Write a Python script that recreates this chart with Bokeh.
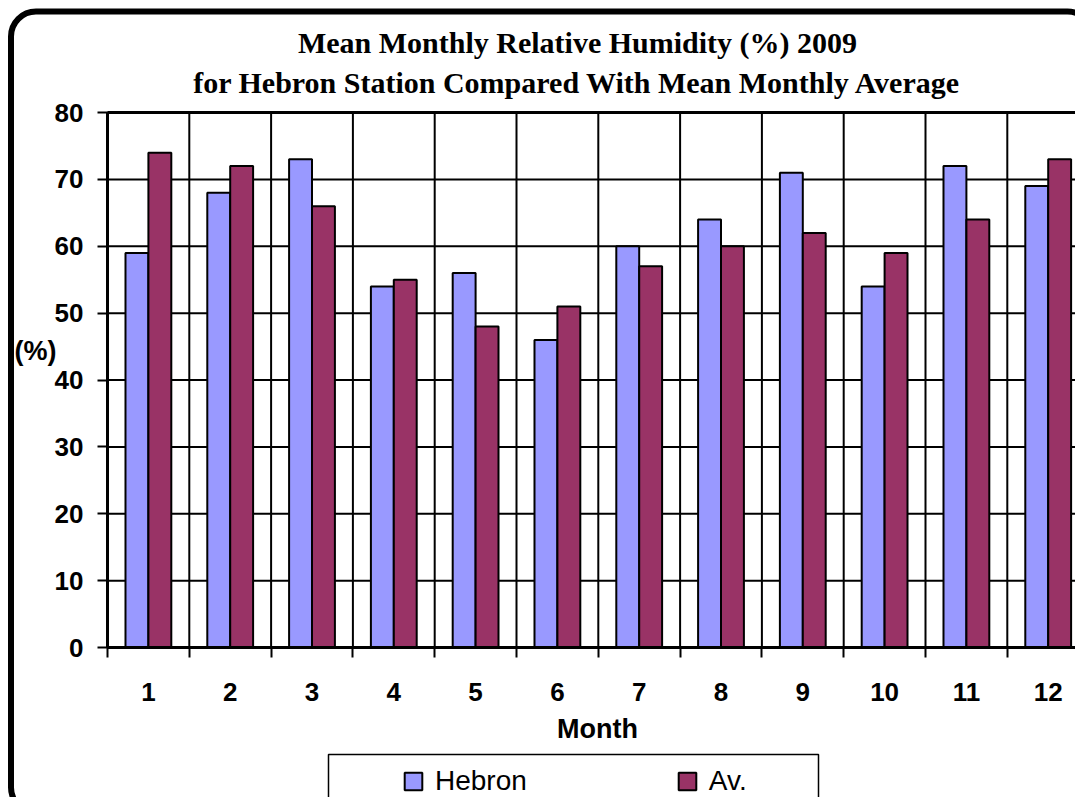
from bokeh.plotting import figure
from bokeh.models import (Range1d, FixedTicker, Legend, LegendItem, Label,
                          BoxAnnotation, ColumnDataSource)
from bokeh.embed import file_html
from bokeh.resources import INLINE

# ---- data ----
months = ["1", "2", "3", "4", "5", "6", "7", "8", "9", "10", "11", "12"]
hebron = [59, 68, 73, 54, 56, 46, 60, 64, 71, 54, 72, 69]
average = [74, 72, 66, 55, 48, 51, 57, 60, 62, 59, 64, 73]
y_ticks = [0, 10, 20, 30, 40, 50, 60, 70, 80]
title_lines = ["Mean Monthly Relative Humidity (%) 2009",
               "for Hebron Station Compared With Mean Monthly Average"]

# ---- layout geometry (pixels) ----
W, H = 1075, 797
X0, Y0, Y80 = 107, 647, 112          # plot area left, y=0 and y=80 pixel rows
cat_px = 81.8
y_px = (Y0 - Y80) / 80.0

def dx(px):
    return (px - X0) / cat_px

def dy(py):
    return (Y0 - py) / y_px

n = len(months)
centers = [i + 0.5 for i in range(n)]
bounds_x = list(range(0, n + 1))
src = ColumnDataSource(dict(
    xh=[c - 0.14 for c in centers], xa=[c + 0.14 for c in centers],
    hebron=hebron, average=average))

p = figure(width=W, height=H, x_range=Range1d(dx(0), dx(W)),
           y_range=Range1d(dy(H), dy(0)),
           output_backend="svg", toolbar_location=None,
           min_border_left=0, min_border_right=0, min_border_top=0,
           min_border_bottom=0)
p.outline_line_color = None
p.background_fill_color = "white"
p.border_fill_color = "white"
p.grid.visible = False

# grid lines (behind bars)
p.segment(x0=[0] * len(y_ticks), x1=[n] * len(y_ticks), y0=y_ticks, y1=y_ticks,
          line_color="black", line_width=2)
p.segment(x0=bounds_x, x1=bounds_x, y0=[0] * len(bounds_x),
          y1=[y_ticks[-1]] * len(bounds_x), line_color="black", line_width=2)
p.segment(x0=[0], x1=[n], y0=[y_ticks[-1]], y1=[y_ticks[-1]],
          line_color="black", line_width=3)

r1 = p.vbar(x="xh", top="hebron", width=0.28, source=src,
            fill_color="#9999FF", line_color="black", line_width=2)
r2 = p.vbar(x="xa", top="average", width=0.28, source=src,
            fill_color="#993366", line_color="black", line_width=2)

# axes (fixed inside the frame)
xa = p.xaxis[0]
xa.fixed_location = 0
xa.bounds = (0, n)
xa.ticker = FixedTicker(ticks=centers, minor_ticks=bounds_x)
xa.major_label_overrides = {c: m for c, m in zip(centers, months)}
xa.major_tick_line_color = None
xa.minor_tick_line_color = "black"
xa.minor_tick_line_width = 2
xa.minor_tick_out = 10
xa.minor_tick_in = 0
xa.major_tick_out = 10
xa.major_tick_in = 0
xa.major_label_standoff = 25
xa.axis_line_width = 3
xa.axis_line_color = "black"
xa.major_label_text_font = "Liberation Sans"
xa.major_label_text_font_style = "bold"
xa.major_label_text_font_size = "26px"
xa.major_label_text_color = "black"

ya = p.yaxis[0]
ya.fixed_location = 0
ya.bounds = (0, 80)
ya.ticker = FixedTicker(ticks=y_ticks, minor_ticks=[])
ya.major_tick_out = 10
ya.major_tick_in = 0
ya.major_tick_line_width = 2
ya.major_tick_line_color = "black"
ya.minor_tick_line_color = None
ya.axis_line_width = 3
ya.axis_line_color = "black"
ya.major_label_standoff = 14
ya.major_label_text_font = "Liberation Sans"
ya.major_label_text_font_style = "bold"
ya.major_label_text_font_size = "26px"
ya.major_label_text_color = "black"

# titles / labels
for txt, py in zip(title_lines, [42, 82]):
    p.add_layout(Label(x=dx(577), y=dy(py), text=txt,
                       text_align="center", text_baseline="middle",
                       text_font="Liberation Serif", text_font_style="bold",
                       text_font_size="30px", text_color="black"))

p.add_layout(Label(x=dx(597), y=dy(728), text="Month", text_align="center",
                   text_baseline="middle", text_font="Liberation Sans",
                   text_font_style="bold", text_font_size="27px", text_color="black"))
p.add_layout(Label(x=dx(14), y=dy(350), text="(%)", text_align="left",
                   text_baseline="middle", text_font="Liberation Sans",
                   text_font_style="bold", text_font_size="27px", text_color="black"))

# outer rounded frame
p.add_layout(BoxAnnotation(left=dx(10.5), right=dx(1092), top=dy(11), bottom=dy(812),
                           fill_color=None, fill_alpha=0, line_color="black",
                           line_alpha=1, line_width=6, border_radius=25))

# legend box
p.add_layout(BoxAnnotation(left=dx(328), right=dx(818), top=dy(754), bottom=dy(830),
                           fill_color="white", fill_alpha=1, line_color="black",
                           line_alpha=1, line_width=1.5))

legend = Legend(items=[LegendItem(label="Hebron", renderers=[r1]),
                       LegendItem(label="Av.", renderers=[r2])],
                orientation="horizontal", location=(402, 0),
                border_line_color=None, background_fill_alpha=0,
                padding=0, margin=0, spacing=149, glyph_width=22, glyph_height=22,
                label_standoff=11, label_height=22,
                label_text_font="Liberation Sans", label_text_font_size="28px",
                label_text_color="black")
p.add_layout(legend)

open("out.html", "w").write(file_html(p, INLINE))
